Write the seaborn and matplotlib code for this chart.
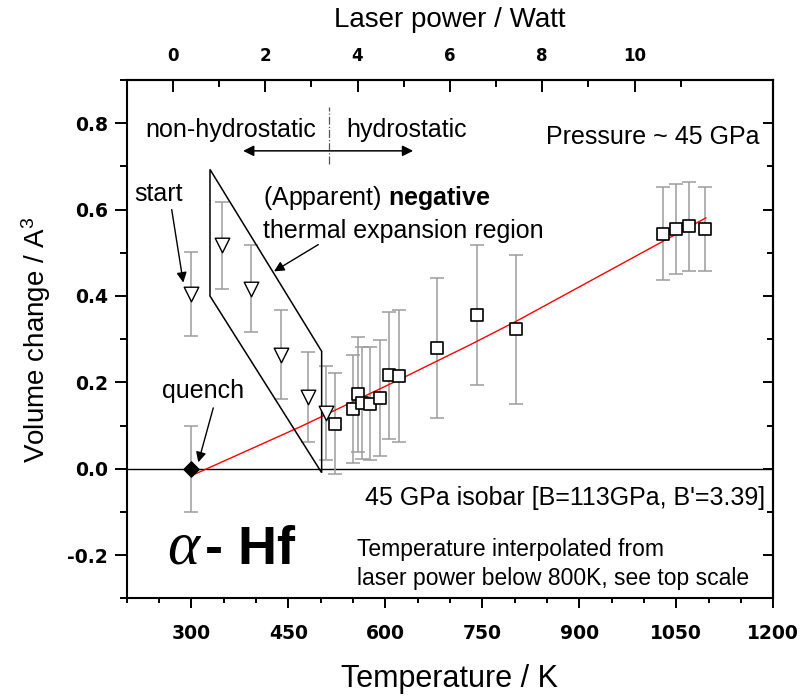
import matplotlib
matplotlib.use("Agg")
import matplotlib.pyplot as plt
from matplotlib.patches import Polygon
from matplotlib.ticker import FixedLocator, MultipleLocator
import seaborn as sns

# Non-hydrostatic heating run (start point and the apparent NTE region)
temp_nonhydro = [300, 347, 393, 439, 481, 509]
dv_nonhydro = [0.405, 0.517, 0.417, 0.264, 0.166, 0.129]
err_nonhydro = [0.097, 0.100, 0.100, 0.103, 0.105, 0.108]

# Hydrostatic heating run
temp_hydro = [522, 550, 558, 564, 576, 592, 605, 621, 680, 742, 802,
              1029, 1049, 1070, 1094]
dv_hydro = [0.104, 0.139, 0.172, 0.152, 0.151, 0.164, 0.216, 0.214, 0.280,
            0.356, 0.323, 0.544, 0.556, 0.562, 0.555]
err_hydro = [0.117, 0.125, 0.133, 0.130, 0.130, 0.135, 0.148, 0.153, 0.162,
             0.161, 0.172, 0.108, 0.104, 0.103, 0.098]

# Quenched sample
temp_quench = [300]
dv_quench = [0.0]
err_quench = [0.10]

# 45 GPa isobar from the EOS (B = 113 GPa, B' = 3.39)
isobar_temp = [300, 468, 621, 731, 803, 1009, 1096]
isobar_dv = [-0.016, 0.097, 0.206, 0.287, 0.342, 0.510, 0.581]

# Outline of the apparent negative thermal expansion region
region_temp = [328.8, 328.8, 501.5, 501.5]
region_dv = [0.693, 0.400, -0.009, 0.272]

x_ticks = [300, 450, 600, 750, 900, 1050, 1200]
y_ticks = [-0.2, 0.0, 0.2, 0.4, 0.6, 0.8]
power_ticks = [0, 2, 4, 6, 8, 10]
power_minor = [1, 3, 5, 7, 9, 11]

sns.set_style("ticks")
plt.rcParams["font.family"] = ["Liberation Sans", "DejaVu Sans"]
plt.rcParams["mathtext.fontset"] = "custom"
plt.rcParams["mathtext.rm"] = "Liberation Sans"
plt.rcParams["mathtext.it"] = "Liberation Sans:italic"
plt.rcParams["mathtext.bf"] = "Liberation Sans:bold"
plt.rcParams["axes.unicode_minus"] = False
for key in ["text.color", "axes.labelcolor", "xtick.color", "ytick.color",
            "axes.edgecolor", "xtick.labelcolor", "ytick.labelcolor"]:
    plt.rcParams[key] = "black"

W, H = 803, 698
fig = plt.figure(figsize=(W / 100, H / 100), dpi=100)
ax = fig.add_axes([126.7 / W, 1 - 598.4 / H, (773.3 - 126.7) / W, (598.4 - 80) / H])
ax.set_facecolor("white")

ax.set_xlim(200, 1200)
ax.set_ylim(-0.3, 0.9)

# zero line
ax.axhline(0.0, color="black", lw=1.0, zorder=1)

# error bars
eb_kw = dict(fmt="none", ecolor="#9c9c9c", elinewidth=1.1, capsize=5, capthick=1.1, zorder=2)
ax.errorbar(temp_nonhydro, dv_nonhydro, yerr=err_nonhydro, **eb_kw)
ax.errorbar(temp_hydro, dv_hydro, yerr=err_hydro, **eb_kw)
ax.errorbar(temp_quench, dv_quench, yerr=err_quench, **eb_kw)

# isobar
sns.lineplot(x=isobar_temp, y=isobar_dv, color="red", lw=1.0, sort=False,
             estimator=None, ax=ax, zorder=3)

# markers
sns.scatterplot(x=temp_nonhydro, y=dv_nonhydro, marker="v", s=110, color="white",
                edgecolor="black", linewidth=1.0, ax=ax, zorder=5)
sns.scatterplot(x=temp_hydro, y=dv_hydro, marker="s", s=68, color="white",
                edgecolor="black", linewidth=1.2, ax=ax, zorder=5)
sns.scatterplot(x=temp_quench, y=dv_quench, marker="D", s=60, color="black",
                edgecolor="black", linewidth=1.0, ax=ax, zorder=6)

# NTE region outline
ax.add_patch(Polygon(list(zip(region_temp, region_dv)), closed=True, fill=False,
                     edgecolor="black", lw=1.1, zorder=4))

# hydrostatic boundary and double arrow
ax.plot([513.3, 513.3], [0.705, 0.838], color="#555555", lw=0.9, ls="-.", zorder=3)
ax.annotate("", xy=(380, 0.736), xytext=(643, 0.736),
            arrowprops=dict(arrowstyle="<|-|>", color="black", lw=1.1,
                            mutation_scale=16, shrinkA=0, shrinkB=0))

arrow_kw = dict(arrowstyle="-|>", color="black", lw=1.0, mutation_scale=15,
                shrinkA=0, shrinkB=0)
ax.annotate("", xy=(287.5, 0.431), xytext=(269.6, 0.600), arrowprops=arrow_kw)
ax.annotate("", xy=(310.7, 0.015), xytext=(333.9, 0.141), arrowprops=arrow_kw)
ax.annotate("", xy=(427.8, 0.457), xytext=(496.3, 0.519), arrowprops=arrow_kw)

# text
ax.text(228.5, 0.769, "non-hydrostatic", fontsize=18, va="baseline")
ax.text(540.0, 0.769, "hydrostatic", fontsize=18, va="baseline")
ax.text(1178, 0.753, "Pressure ~ 45 GPa", fontsize=18, ha="right", va="baseline")
ax.text(411, 0.610, r"(Apparent) $\mathbf{negative}$", fontsize=18, va="baseline")
ax.text(411, 0.535, "thermal expansion region", fontsize=18, va="baseline")
ax.text(211.3, 0.620, "start", fontsize=18, va="baseline")
ax.text(254, 0.164, "quench", fontsize=18, va="baseline")
ax.text(1187, -0.083, "45 GPa isobar [B=113GPa, B'=3.39]", fontsize=18,
        ha="right", va="baseline")
ax.text(262, -0.220, "\u03b1", family="Liberation Serif", style="italic",
        fontsize=44, va="baseline")
ax.text(321, -0.220, "- Hf", fontweight="bold", fontsize=39, va="baseline")
ax.text(556, -0.203, "Temperature interpolated from", fontsize=16.5, va="baseline")
ax.text(556, -0.269, "laser power below 800K, see top scale", fontsize=16.5,
        va="baseline")

# bottom / left axes
tick_font = dict(fontfamily="DejaVu Sans", fontweight="bold")
ax.set_xticks(x_ticks, labels=[str(v) for v in x_ticks], fontsize=13.5, **tick_font)
ax.set_yticks(y_ticks, labels=[f"{v:.1f}" for v in y_ticks], fontsize=13.5, **tick_font)
ax.xaxis.set_minor_locator(MultipleLocator(50))
ax.yaxis.set_minor_locator(MultipleLocator(0.1))
ax.tick_params(which="both", direction="out", top=False, right=False, width=1.4,
               color="black")
ax.tick_params(axis="x", which="major", length=7.5, pad=11)
ax.tick_params(axis="x", which="minor", length=3.8)
ax.tick_params(axis="y", which="major", length=8.5, pad=5)
ax.tick_params(axis="y", which="minor", length=4.8)
ax.set_xlabel("Temperature / K", fontsize=22, labelpad=15)
ax.set_ylabel("Volume change / A$^{3}$", fontsize=20, labelpad=10)

for side in ["left", "right", "top", "bottom"]:
    ax.spines[side].set_color("black")
    ax.spines[side].set_linewidth(1.5)

# right axis: inward ticks, no labels
ry = ax.secondary_yaxis("right")
ry.set_yticks(y_ticks)
ry.yaxis.set_minor_locator(MultipleLocator(0.1))
ry.tick_params(which="both", direction="in", labelright=False, width=1.4, color="black")
ry.tick_params(which="major", length=7.5)
ry.tick_params(which="minor", length=4)
ry.spines["right"].set_linewidth(1.5)

# top axis: laser power
def temp_to_power(t):
    return (t - 271.4) / 71.4

def power_to_temp(p):
    return p * 71.4 + 271.4

tx = ax.secondary_xaxis("top", functions=(temp_to_power, power_to_temp))
tx.set_xticks(power_ticks, labels=[str(v) for v in power_ticks], fontsize=12, **tick_font)
tx.xaxis.set_minor_locator(FixedLocator(power_minor))
tx.tick_params(which="both", direction="in", width=1.4, color="black")
tx.tick_params(which="major", length=8.5, pad=11)
tx.tick_params(which="minor", length=4.8)
tx.spines["top"].set_linewidth(1.5)
tx.set_xlabel("Laser power / Watt", fontsize=20, labelpad=14)

fig.savefig("out.png", dpi=100, facecolor="white")
